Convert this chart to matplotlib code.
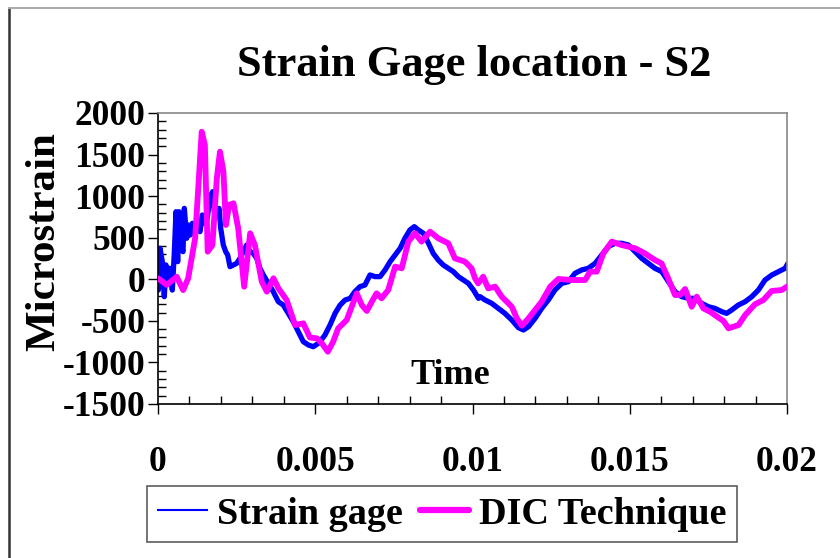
import matplotlib
matplotlib.use("Agg")
import matplotlib.pyplot as plt
from matplotlib.lines import Line2D
from matplotlib.ticker import MultipleLocator, FixedLocator
import numpy as np

plt.rcParams['font.family'] = ['Liberation Serif', 'DejaVu Serif']
plt.rcParams['font.weight'] = 'bold'
plt.rcParams['axes.unicode_minus'] = False

title = "Strain Gage location - S2"
x_label = "Time"
y_label = "Microstrain"
series_names = ["Strain gage", "DIC Technique"]
x_tick_labels = ["0", "0.005", "0.01", "0.015", "0.02"]

# Strain gage (time in ms, microstrain)
gage_t_ms = [0.0, 0.01, 0.064, 0.137, 0.20, 0.254, 0.308, 0.382, 0.455, 0.518, 0.572, 0.626,
             0.668, 0.721, 0.795, 0.837, 0.912, 0.964, 1.027, 1.091, 1.177, 1.25, 1.336,
             1.409, 1.494, 1.568, 1.631, 1.685, 1.739, 1.79, 1.866, 1.94, 1.994, 2.077,
             2.153, 2.216, 2.29, 2.394, 2.503, 2.607, 2.713, 2.82, 2.925, 3.03, 3.14,
             3.243, 3.35, 3.507, 3.666, 3.825, 3.984, 4.143, 4.302, 4.461, 4.62, 4.779,
             4.938, 5.097, 5.15, 5.31, 5.47, 5.63, 5.79, 5.95, 6.11, 6.26, 6.42, 6.58,
             6.74, 6.90, 7.06, 7.22, 7.38, 7.54, 7.70, 7.85, 8.01, 8.15, 8.28, 8.44,
             8.60, 8.75, 8.91, 9.07, 9.23, 9.39, 9.55, 9.71, 9.87, 10.03, 10.19, 10.24,
             10.40, 10.61, 10.82, 11.03, 11.25, 11.46, 11.62, 11.78, 11.99, 12.20, 12.41,
             12.62, 12.84, 13.05, 13.26, 13.47, 13.68, 13.90, 14.11, 14.32, 14.53, 14.75,
             14.96, 15.17, 15.38, 15.59, 15.80, 16.02, 16.23, 16.44, 16.65, 16.86, 17.08,
             17.29, 17.50, 17.71, 17.93, 18.08, 18.24, 18.45, 18.67, 18.88, 19.09, 19.30,
             19.52, 19.73, 19.94, 20.0]
gage_strain = [300, -130, 373, 212, -209, 172, -49, 132, -130, 312, 813, 212,
               813, 412, 332, 853, 493, 653, 533, 673, 573, 693, 573,
               773, 673, 733, 934, 1014, 1054, 813, 773, 853, 613, 412,
               332, 292, 152, 172, 192, 252, 332, 412, 332, 312, 252,
               132, 52, -49, -149, -269, -310, -410, -510, -631, -750, -790,
               -811, -770, -750, -670, -550, -410, -310, -249, -229, -149, -89, -69,
               52, 32, 32, 112, 212, 292, 373, 493, 593, 633, 593, 553,
               433, 312, 232, 172, 132, 92, 32, -9, -49, -129, -229, -209,
               -249, -289, -350, -410, -490, -582, -610, -570, -470, -350, -249,
               -129, -49, -29, 72, 112, 132, 192, 292, 393, 433, 433,
               412, 332, 252, 192, 132, 92, -29, -149, -209, -229, -229,
               -289, -330, -350, -390, -410, -370, -310, -269, -209, -129, -9,
               52, 92, 132, 172]

# DIC technique (time in ms, microstrain)
dic_t_ms = [0.0, 0.277, 0.594, 0.80, 0.96, 1.18, 1.28, 1.39, 1.49, 1.58, 1.73, 1.87,
            1.97, 2.08, 2.16, 2.26, 2.40, 2.55, 2.74, 2.93, 3.08, 3.30, 3.46, 3.67,
            3.83, 4.09, 4.36, 4.62, 4.83, 5.05, 5.21, 5.40, 5.57, 5.73, 6.00, 6.32,
            6.48, 6.64, 6.80, 6.95, 7.11, 7.32, 7.54, 7.75, 7.96, 8.17, 8.38, 8.65,
            8.91, 9.23, 9.44, 9.76, 9.97, 10.08, 10.18, 10.34, 10.50, 10.72, 10.93,
            11.25, 11.41, 11.57, 11.78, 12.20, 12.47, 12.73, 13.16, 13.58, 13.74,
            13.95, 14.16, 14.43, 14.74, 15.17, 15.48, 15.80, 16.01, 16.22, 16.44,
            16.60, 16.76, 16.97, 17.13, 17.34, 17.55, 17.98, 18.14, 18.46, 18.67,
            18.98, 19.25, 19.51, 19.83, 20.0]
dic_strain = [12, -68, 31, -130, 12, 493, 1094, 1775, 1615, 332, 412, 1214,
              1535, 1294, 653, 894, 914, 613, -89, 553, 412, -29, -149, 12,
              -109, -249, -550, -530, -700, -710, -770, -871, -750, -590, -490, -169,
              -310, -381, -269, -169, -229, -129, 152, 132, 453, 553, 453, 573,
              493, 433, 252, 212, 132, 12, -49, 31, -109, -89, -209,
              -330, -470, -558, -470, -269, -89, 4, -9, -9, 92,
              92, 312, 453, 412, 373, 312, 232, 192, 12, -189,
              -189, -117, -330, -209, -350, -390, -502, -590, -550, -430,
              -301, -249, -141, -129, -89]

W, H = 840, 558
fig = plt.figure(figsize=(W / 100, H / 100), dpi=100)
ax = fig.add_axes([158 / W, 1 - 404 / H, (787 - 158) / W, (404 - 113) / H])

gt = np.array(gage_t_ms) / 1000.0
dt = np.array(dic_t_ms) / 1000.0
ax.plot(gt, gage_strain, color='#0000FF', lw=3.8, label=series_names[0], zorder=2)
ax.plot(dt, dic_strain, color='#FF00FF', lw=4.2, label=series_names[1],
        solid_joinstyle='round', solid_capstyle='round', zorder=3)

ax.set_xlim(0, 0.02)
ax.set_ylim(-1500, 2000)
ax.xaxis.set_major_locator(FixedLocator([0, 0.005, 0.01, 0.015, 0.02]))
ax.set_xticklabels(x_tick_labels)
ax.xaxis.set_minor_locator(MultipleLocator(0.001))
ax.yaxis.set_major_locator(MultipleLocator(500))
ax.yaxis.set_minor_locator(MultipleLocator(100))

ax.tick_params(axis='both', which='major', direction='out', length=7, width=1.0,
               labelsize=25.5, color='black')
ax.tick_params(axis='both', which='minor', direction='in', length=5.5, width=1.0,
               color='black')
ax.tick_params(axis='x', which='major', pad=23)
ax.tick_params(axis='y', which='major', pad=2)
for lab in ax.get_xticklabels() + ax.get_yticklabels():
    lab.set_fontweight('bold')

ax.spines['left'].set_color('black')
ax.spines['bottom'].set_color('black')
ax.spines['top'].set_color('#888888')
ax.spines['right'].set_color('#888888')
for s in ax.spines.values():
    s.set_linewidth(1.2)

fig.text(474 / W, 1 - 65 / H, title, ha='center', va='center', fontsize=32,
         fontweight='bold')
fig.text(44 / W, 1 - 242 / H, y_label, ha='center', va='center', rotation=90,
         fontsize=31, fontweight='bold')
fig.text(450 / W, 1 - 375 / H, x_label, ha='center', va='center', fontsize=26,
         fontweight='bold')

leg = ax.legend(loc='center', bbox_to_anchor=(442 / W, 1 - 514 / H),
                bbox_transform=fig.transFigure, ncol=2, frameon=True,
                fancybox=False, prop={'size': 27.5, 'weight': 'bold'},
                handlelength=1.3, handletextpad=0.25, columnspacing=0.45,
                borderpad=0.28, borderaxespad=0)
leg.get_frame().set_edgecolor('#333333')
leg.get_frame().set_linewidth(1.2)
hl = leg.get_lines()
hl[0].set_linewidth(1.5)
hl[1].set_linewidth(4.5)

# outer chart border (left and top visible)
fig.add_artist(Line2D([8.5 / W, 8.5 / W], [0, 1 - 7.5 / H], transform=fig.transFigure,
                      color='#333333', lw=1.8))
fig.add_artist(Line2D([8.5 / W, 1], [1 - 7.5 / H, 1 - 7.5 / H], transform=fig.transFigure,
                      color='#aaaaaa', lw=1.5))

fig.savefig('out.png', dpi=100)
